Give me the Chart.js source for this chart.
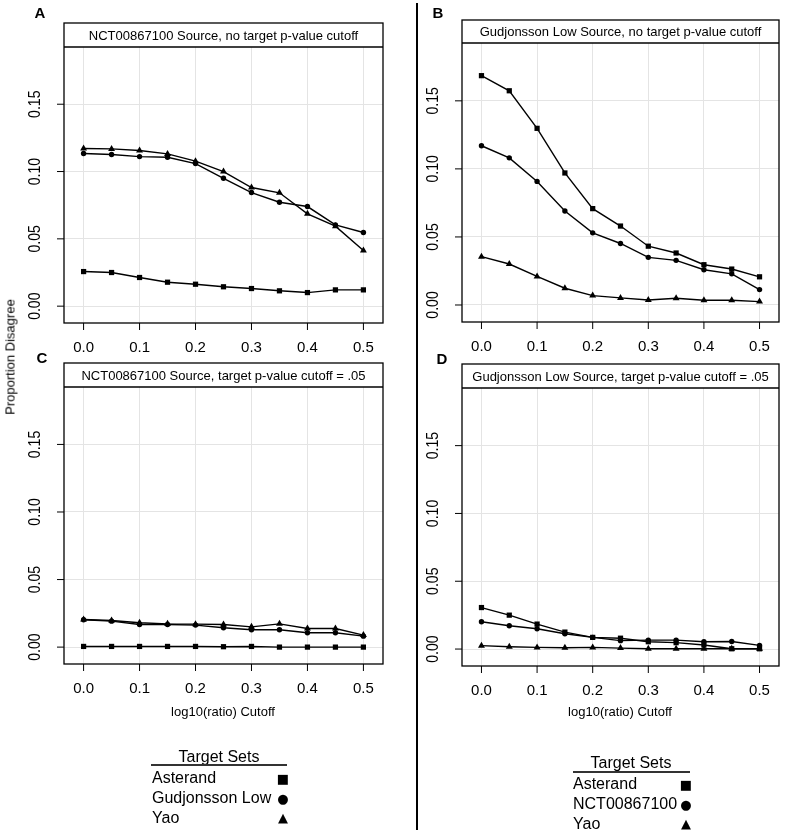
<!DOCTYPE html>
<html>
<head>
<meta charset="utf-8">
<script src="https://cdn.jsdelivr.net/npm/chart.js@4.4.0/dist/chart.umd.min.js"></script>
<style>
  body { margin: 0; background: #fff; }
  #page { position: relative; width: 785px; height: 835px; font-family: Arial, "Liberation Sans", sans-serif; color: #000; }
  #page canvas { position: absolute; left: 0; top: 0; }
  .t { position: absolute; white-space: nowrap; line-height: 1; }
  .sym { position: absolute; font-family: "DejaVu Sans", sans-serif; line-height: 1; }
</style>
</head>
<body>
<div id="page">
  <canvas id="pA" width="785" height="835"></canvas>
  <canvas id="pB" width="785" height="835"></canvas>
  <canvas id="pC" width="785" height="835"></canvas>
  <canvas id="pD" width="785" height="835"></canvas>

  <div style="position:absolute;left:416px;top:3px;width:1.5px;height:827px;background:#000"></div>

  <div class="t" style="left:10px;top:357px;font-size:13px;color:#000;transform:translate(-50%,-50%) rotate(-90deg)">Proportion Disagree</div>
  <div class="t" style="left:223px;top:711px;font-size:13px;transform:translate(-50%,-50%)">log10(ratio) Cutoff</div>
  <div class="t" style="left:620px;top:711px;font-size:13px;transform:translate(-50%,-50%)">log10(ratio) Cutoff</div>

  <!-- left legend -->
  <div class="t" style="left:219px;top:757px;font-size:16px;transform:translate(-50%,-50%)">Target Sets</div>
  <div style="position:absolute;left:151px;top:764px;width:136px;height:2px;background:#333"></div>
  <div class="t" style="left:152px;top:778px;font-size:16px;transform:translateY(-50%)">Asterand</div>
  <div class="t" style="left:152px;top:798px;font-size:16px;transform:translateY(-50%)">Gudjonsson Low</div>
  <div class="t" style="left:152px;top:818px;font-size:16px;transform:translateY(-50%)">Yao</div>
  <div class="sym" style="left:283px;top:778px;font-size:13px;transform:translate(-50%,-50%)">■</div>
  <div class="sym" style="left:283px;top:798px;font-size:13px;transform:translate(-50%,-50%)">●</div>
  <div class="sym" style="left:283px;top:817px;font-size:13px;transform:translate(-50%,-50%)">▲</div>

  <!-- right legend -->
  <div class="t" style="left:631px;top:763px;font-size:16px;transform:translate(-50%,-50%)">Target Sets</div>
  <div style="position:absolute;left:573px;top:771px;width:117px;height:2px;background:#333"></div>
  <div class="t" style="left:573px;top:784px;font-size:16px;transform:translateY(-50%)">Asterand</div>
  <div class="t" style="left:573px;top:804px;font-size:16px;transform:translateY(-50%)">NCT00867100</div>
  <div class="t" style="left:573px;top:824px;font-size:16px;transform:translateY(-50%)">Yao</div>
  <div class="sym" style="left:686px;top:784px;font-size:13px;transform:translate(-50%,-50%)">■</div>
  <div class="sym" style="left:686px;top:804px;font-size:13px;transform:translate(-50%,-50%)">●</div>
  <div class="sym" style="left:686px;top:823px;font-size:13px;transform:translate(-50%,-50%)">▲</div>
</div>

<script>
// log10(ratio) cutoffs shared by every panel
const cutoffs = [0, 0.05, 0.1, 0.15, 0.2, 0.25, 0.3, 0.35, 0.4, 0.45, 0.5];
const xTicks = [0, 0.1, 0.2, 0.3, 0.4, 0.5];
const xTickLabels = ['0.0', '0.1', '0.2', '0.3', '0.4', '0.5'];
const yTicks = [0, 0.05, 0.1, 0.15];
const yTickLabels = ['0.00', '0.05', '0.10', '0.15'];

// A: NCT00867100 source, no target p-value cutoff
const aAsterand = [0.0257, 0.0250, 0.0213, 0.0178, 0.0163, 0.0144, 0.0131, 0.0114, 0.0101, 0.0121, 0.0121];
const aGudjonsson = [0.1134, 0.1126, 0.1111, 0.1106, 0.1059, 0.0950, 0.0844, 0.0772, 0.0740, 0.0604, 0.0547];
const aYao = [0.1171, 0.1168, 0.1156, 0.1131, 0.1077, 0.1000, 0.0881, 0.0842, 0.0686, 0.0594, 0.0413];

// B: Gudjonsson Low source, no target p-value cutoff
const bAsterand = [0.1685, 0.1574, 0.1298, 0.0970, 0.0708, 0.0580, 0.0432, 0.0382, 0.0296, 0.0264, 0.0207];
const bNCT = [0.1170, 0.1081, 0.0908, 0.0691, 0.0530, 0.0452, 0.0350, 0.0328, 0.0259, 0.0229, 0.0113];
const bYao = [0.0355, 0.0301, 0.0210, 0.0123, 0.0069, 0.0052, 0.0037, 0.0049, 0.0035, 0.0035, 0.0025];

// C: NCT00867100 source, target p-value cutoff = .05
const cAsterand = [0.0005, 0.0005, 0.0005, 0.0005, 0.0005, 0.0003, 0.0005, 0.0000, 0.0000, 0.0000, 0.0000];
const cGudjonsson = [0.0202, 0.0192, 0.0167, 0.0167, 0.0163, 0.0143, 0.0128, 0.0128, 0.0106, 0.0106, 0.0081];
const cYao = [0.0204, 0.0197, 0.0180, 0.0172, 0.0170, 0.0167, 0.0150, 0.0172, 0.0138, 0.0138, 0.0089];

// D: Gudjonsson Low source, target p-value cutoff = .05
const dAsterand = [0.0306, 0.0250, 0.0184, 0.0125, 0.0086, 0.0080, 0.0054, 0.0047, 0.0030, 0.0002, 0.0002];
const dNCT = [0.0201, 0.0172, 0.0150, 0.0113, 0.0086, 0.0062, 0.0066, 0.0066, 0.0054, 0.0056, 0.0027];
const dYao = [0.0025, 0.0017, 0.0012, 0.0010, 0.0012, 0.0007, 0.0002, 0.0002, 0.0002, 0.0002, 0.0002];

const panelFrame = {
  id: 'panelFrame',
  afterDraw(chart, args, o) {
    const ctx = chart.ctx;
    const a = chart.chartArea;
    const xs = chart.scales.x, ys = chart.scales.y;
    ctx.save();
    // strip header
    ctx.fillStyle = '#fff';
    ctx.fillRect(a.left, o.headerTop, a.right - a.left, a.top - o.headerTop);
    ctx.strokeStyle = '#000';
    ctx.lineWidth = 1.3;
    ctx.strokeRect(a.left, o.headerTop, a.right - a.left, a.bottom - o.headerTop);
    ctx.beginPath();
    ctx.moveTo(a.left, a.top);
    ctx.lineTo(a.right, a.top);
    ctx.stroke();
    ctx.fillStyle = '#000';
    ctx.font = '13px Arial, "Liberation Sans", sans-serif';
    ctx.textAlign = 'center';
    ctx.textBaseline = 'middle';
    ctx.fillText(o.title, (a.left + a.right) / 2, (o.headerTop + a.top) / 2 + 1);

    // tick marks and labels
    ctx.lineWidth = 1;
    ctx.font = '15px Arial, "Liberation Sans", sans-serif';
    xTicks.forEach((v, i) => {
      const px = xs.getPixelForValue(v);
      ctx.beginPath();
      ctx.moveTo(px, a.bottom);
      ctx.lineTo(px, a.bottom + 7);
      ctx.stroke();
      ctx.fillText(xTickLabels[i], px, a.bottom + 25);
    });
    yTicks.forEach((v, i) => {
      const py = ys.getPixelForValue(v);
      ctx.beginPath();
      ctx.moveTo(a.left, py);
      ctx.lineTo(a.left - 7, py);
      ctx.stroke();
      ctx.save();
      ctx.translate(a.left - 28, py);
      ctx.rotate(-Math.PI / 2);
      ctx.scale(0.88, 1);
      ctx.font = '16px Arial, "Liberation Sans", sans-serif';
      ctx.fillText(yTickLabels[i], 0, 0);
      ctx.restore();
    });

    // panel letter
    ctx.font = 'bold 15px Arial, "Liberation Sans", sans-serif';
    ctx.fillText(o.letter, o.letterX, o.letterY);
    ctx.restore();
  }
};

function series(values, style, radius) {
  return {
    data: cutoffs.map((c, i) => ({ x: c, y: values[i] })),
    borderColor: '#000',
    borderWidth: 1.4,
    backgroundColor: '#000',
    pointBackgroundColor: '#000',
    pointBorderColor: '#000',
    pointBorderWidth: 0,
    pointStyle: style,
    pointRadius: radius,
    tension: 0,
    fill: false
  };
}

function makePanel(id, box, title, letter, lx, ly, sets) {
  new Chart(document.getElementById(id), {
    type: 'line',
    data: {
      datasets: [
        series(sets[0], 'rect', 3.7),
        series(sets[1], 'circle', 2.7),
        series(sets[2], 'triangle', 4)
      ]
    },
    plugins: [panelFrame],
    options: {
      responsive: false,
      animation: false,
      events: [],
      layout: {
        padding: { left: box.left, top: box.top, right: 785 - box.right, bottom: 835 - box.bottom }
      },
      plugins: {
        legend: { display: false },
        tooltip: { enabled: false },
        panelFrame: { title: title, headerTop: box.headerTop, letter: letter, letterX: lx, letterY: ly }
      },
      scales: {
        x: {
          type: 'linear', min: -0.035, max: 0.535,
          afterBuildTicks: s => { s.ticks = xTicks.map(v => ({ value: v })); },
          ticks: { display: false },
          grid: { color: '#e4e4e4', lineWidth: 1, drawTicks: false },
          border: { display: false }
        },
        y: {
          type: 'linear', min: -0.0125, max: 0.1925,
          afterBuildTicks: s => { s.ticks = yTicks.map(v => ({ value: v })); },
          ticks: { display: false },
          grid: { color: '#e4e4e4', lineWidth: 1, drawTicks: false },
          border: { display: false }
        }
      }
    }
  });
}

makePanel('pA', { left: 64, top: 47, right: 383, bottom: 323, headerTop: 23 },
  'NCT00867100 Source, no target p-value cutoff', 'A', 40, 14, [aAsterand, aGudjonsson, aYao]);
makePanel('pB', { left: 462, top: 43, right: 779, bottom: 322, headerTop: 20 },
  'Gudjonsson Low Source, no target p-value cutoff', 'B', 438, 14, [bAsterand, bNCT, bYao]);
makePanel('pC', { left: 64, top: 387, right: 383, bottom: 664, headerTop: 363 },
  'NCT00867100 Source, target p-value cutoff = .05', 'C', 42, 359, [cAsterand, cGudjonsson, cYao]);
makePanel('pD', { left: 462, top: 388, right: 779, bottom: 666, headerTop: 364 },
  'Gudjonsson Low Source, target p-value cutoff = .05', 'D', 442, 360, [dAsterand, dNCT, dYao]);
</script>
</body>
</html>
